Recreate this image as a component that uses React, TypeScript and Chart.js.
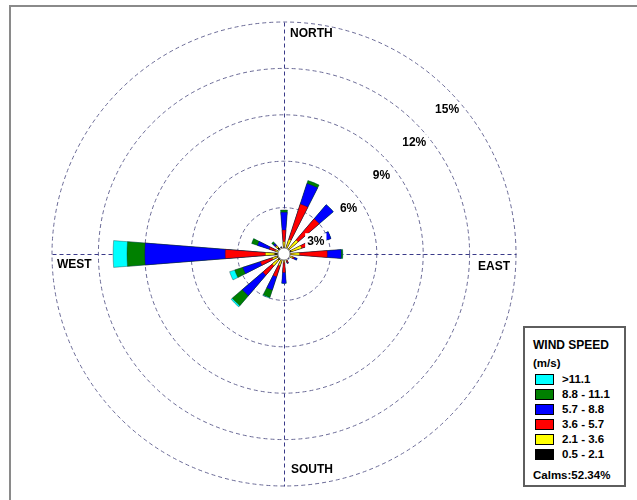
import React, { useEffect, useRef } from "react";
import { Chart, registerables } from "chart.js";

Chart.register(...registerables);

// Sixteen compass sectors, clockwise from north
const directions = ["N", "NNE", "NE", "ENE", "E", "ESE", "SE", "SSE", "S", "SSW", "SW", "WSW", "W", "WNW", "NW", "NNW"];

// Wind speed classes (m/s), innermost first
const speedClasses = ["0.5 - 2.1", "2.1 - 3.6", "3.6 - 5.7", "5.7 - 8.8", "8.8 - 11.1", ">11.1"];
const classColors = ["#000000", "#FFFF00", "#FF0000", "#0000FF", "#008000", "#00FFFF"];

// Frequency of occurrence (%) per direction for each speed class
const freq05to21 = [0.45, 0.4, 0.4, 0.5, 0.4, 0.4, 0.25, 0.3, 0.3, 0.4, 0.5, 0.45, 0.6, 0.4, 0.55, 0.3];
const freq21to36 = [0.35, 0.6, 0.8, 0.7, 0.6, 0.2, 0.1, 0.15, 0.25, 0.4, 0.5, 0.35, 0.6, 0.2, 0.15, 0.1];
const freq36to57 = [0.75, 2.4, 1.8, 1.4, 1.8, 0.1, 0.05, 0.15, 0.65, 0.75, 0.8, 0.8, 2.6, 0.4, 0.05, 0.05];
const freq57to88 = [1.15, 1.4, 1.2, 0.6, 0.9, 0.2, 0.05, 0.05, 0.7, 0.9, 1.75, 1.2, 5.2, 0.8, 0.15, 0.05];
const freq88to111 = [0.15, 0.2, 0, 0, 0.1, 0, 0, 0, 0, 0.5, 0.85, 0.55, 1.15, 0.4, 0.15, 0];
const freqOver111 = [0, 0, 0, 0, 0, 0, 0, 0, 0, 0.05, 0.1, 0.35, 0.9, 0, 0, 0];

const calmsPercent = 52.34;

// Ring values (%) and their labels
const ringValues = [3, 6, 9, 12, 15];
const ringLabels = ["3%", "6%", "9%", "12%", "15%"];

const compassLabels = ["NORTH", "EAST", "SOUTH", "WEST"];

const PETAL_DEG = 9;
const GAP_DEG = 360 / directions.length - PETAL_DEG;
const BOLD = "bold 12px 'Liberation Sans', Arial, sans-serif";

const classFreqs = [freq05to21, freq21to36, freq36to57, freq57to88, freq88to111, freqOver111];

function buildDatasets() {
  return classFreqs.map((freqs, k) => {
    // each class is drawn as a wedge reaching the cumulative frequency
    const cumulative = directions.map((_, d) =>
      classFreqs.slice(0, k + 1).reduce((sum, arr) => sum + arr[d], 0)
    );
    const data: number[] = [];
    cumulative.forEach((v) => {
      data.push(v);
      data.push(0);
    });
    return {
      label: speedClasses[k],
      data,
      backgroundColor: classColors[k],
      borderColor: "rgba(20,20,20,0.55)",
      borderWidth: (ctx: any) =>
        ctx.dataIndex % 2 === 0 && freqs[ctx.dataIndex / 2] > 0 ? 0.6 : 0,
      angle: (ctx: any) => (ctx.dataIndex % 2 === 0 ? PETAL_DEG : GAP_DEG),
    };
  });
}

const roseDecor = {
  id: "roseDecor",
  beforeDatasetsDraw(chart: any) {
    const s = chart.scales.r;
    const ctx = chart.ctx;
    const R = s.getDistanceFromCenterForValue(s.max);
    const cx = s.xCenter + 0.5;
    const cy = s.yCenter + 0.5;
    ctx.save();
    ctx.strokeStyle = "#3a3a88";
    ctx.lineWidth = 1;
    ctx.setLineDash([4, 3]);
    ctx.beginPath();
    ctx.moveTo(cx, cy - R);
    ctx.lineTo(cx, cy + R);
    ctx.moveTo(cx - R, cy);
    ctx.lineTo(cx + R, cy);
    ctx.stroke();
    ctx.restore();
  },
  afterDatasetsDraw(chart: any) {
    const s = chart.scales.r;
    const ctx = chart.ctx;
    const R = s.getDistanceFromCenterForValue(s.max);
    const cx = s.xCenter;
    const cy = s.yCenter;
    ctx.save();

    // calms circle
    ctx.beginPath();
    ctx.arc(cx, cy, 6, 0, Math.PI * 2);
    ctx.fillStyle = "#ffffff";
    ctx.fill();
    ctx.strokeStyle = "#9a9a9a";
    ctx.lineWidth = 1;
    ctx.stroke();

    // ring labels along the north-east diagonal
    ctx.font = BOLD;
    ctx.textAlign = "center";
    ctx.textBaseline = "middle";
    ringValues.forEach((v, i) => {
      const r = s.getDistanceFromCenterForValue(v);
      const x = cx + r * Math.SQRT1_2 - 1;
      const y = cy - r * Math.SQRT1_2 + 20;
      const w = ctx.measureText(ringLabels[i]).width;
      ctx.fillStyle = "#ffffff";
      ctx.fillRect(x - w / 2 - 2, y - 8, w + 4, 16);
      ctx.fillStyle = "#000000";
      ctx.fillText(ringLabels[i], x, y);
    });

    // compass labels
    ctx.textBaseline = "middle";
    ctx.textAlign = "left";
    ctx.fillText(compassLabels[0], cx + 6, cy - R + 12);
    ctx.fillText(compassLabels[2], cx + 7, cy + R - 16);
    ctx.fillText(compassLabels[3], cx - R + 5, cy + 11);
    ctx.textAlign = "right";
    ctx.fillText(compassLabels[1], cx + R - 6, cy + 13);
    ctx.restore();
  },
};

function Legend() {
  const font = "'Liberation Sans', Arial, sans-serif";
  const order = [5, 4, 3, 2, 1, 0];
  return (
    <div
      style={{
        position: "absolute",
        left: 523,
        top: 326,
        width: 99,
        height: 157,
        border: "2px solid #5e5e5e",
        background: "#fff",
        fontFamily: font,
        fontWeight: "bold",
        fontSize: 11.5,
        color: "#000",
      }}
    >
      <div style={{ position: "absolute", left: 8, top: 10, lineHeight: "14px", fontSize: 12, whiteSpace: "nowrap" }}>
        WIND SPEED
      </div>
      <div style={{ position: "absolute", left: 8, top: 28, lineHeight: "14px", whiteSpace: "nowrap" }}>(m/s)</div>
      {order.map((k, i) => (
        <React.Fragment key={k}>
          <div
            style={{
              position: "absolute",
              left: 10,
              top: 46 + 15 * i,
              width: 17,
              height: 9,
              background: classColors[k],
              border: "1px solid #000",
            }}
          />
          <div style={{ position: "absolute", left: 37, top: 44 + 15 * i, lineHeight: "14px", whiteSpace: "nowrap" }}>
            {speedClasses[k]}
          </div>
        </React.Fragment>
      ))}
      <div style={{ position: "absolute", left: 8, top: 140, lineHeight: "14px", whiteSpace: "nowrap" }}>
        Calms:{calmsPercent.toFixed(2)}%
      </div>
    </div>
  );
}

export default function App() {
  const canvasRef = useRef<HTMLCanvasElement | null>(null);

  useEffect(() => {
    if (!canvasRef.current) return;
    const labels: string[] = [];
    directions.forEach((d) => {
      labels.push(d);
      labels.push("");
    });
    const chart = new Chart(canvasRef.current, {
      type: "polarArea",
      data: { labels, datasets: buildDatasets() as any },
      options: {
        responsive: false,
        animation: false,
        events: [],
        layout: { padding: { left: 52, top: 22, right: 121, bottom: 14 } },
        plugins: { legend: { display: false }, tooltip: { enabled: false } },
        scales: {
          r: {
            min: 0,
            max: 15,
            startAngle: 360 - PETAL_DEG / 2,
            ticks: { stepSize: 3, display: false },
            grid: { color: "#6a6a96", lineWidth: 1, circular: true },
            border: { dash: [4, 3] },
            angleLines: { display: false },
            pointLabels: { display: false },
          },
        },
      } as any,
      plugins: [roseDecor],
    });
    return () => chart.destroy();
  }, []);

  return (
    <div
      style={{
        position: "fixed",
        left: 0,
        top: 0,
        width: 637,
        height: 500,
        overflow: "hidden",
        background: "#fff",
      }}
    >
      <div
        style={{
          position: "absolute",
          left: 9,
          top: 5,
          width: 700,
          height: 600,
          borderLeft: "2px solid #8a8a8a",
          borderTop: "2px solid #8a8a8a",
        }}
      />
      <canvas ref={canvasRef} width={637} height={500} style={{ position: "absolute", left: 0, top: 0 }} />
      <Legend />
    </div>
  );
}
